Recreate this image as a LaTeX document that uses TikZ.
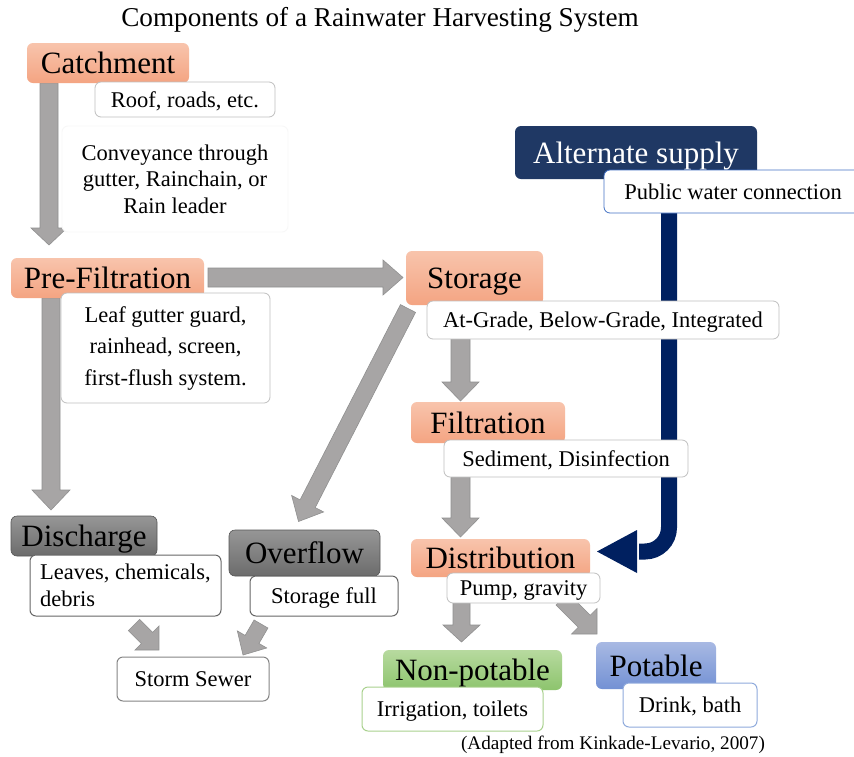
\documentclass[tikz,border=0pt]{standalone}
\usepackage{fontspec}
\setmainfont{Liberation Serif}
\usetikzlibrary{calc}
\definecolor{orT}{HTML}{F8C4AC}
\definecolor{orB}{HTML}{F4A482}
\definecolor{grT}{HTML}{969696}
\definecolor{grB}{HTML}{6C6C6C}
\definecolor{gnT}{HTML}{B7DA9F}
\definecolor{gnB}{HTML}{8DC46D}
\definecolor{blT}{HTML}{A8B9E3}
\definecolor{blB}{HTML}{7391D4}
\definecolor{navybox}{HTML}{1F3864}
\definecolor{navyarrow}{HTML}{002060}
\definecolor{arrowfill}{HTML}{A7A5A5}
\definecolor{arrowline}{HTML}{909090}
\definecolor{lightborder}{HTML}{BFBFBF}
\definecolor{darkborder}{HTML}{666666}
\definecolor{greenborder}{HTML}{A9D18E}
\definecolor{blueborder}{HTML}{8FAADC}
\definecolor{pubborder}{HTML}{4472C4}
\newcommand\blockarrow[5]{%
 \pgfpointdiff{\pgfpointanchor{#1}{center}}{\pgfpointanchor{#2}{center}}%
 \pgfgetlastxy{\badx}{\bady}%
 \pgfmathsetmacro\baang{atan2(\bady,\badx)}%
 \pgfmathsetmacro\balen{veclen(\badx,\bady)}%
 \pgfmathsetmacro\bab{\balen-#5}%
 \path[garrow, shift={(#1)}, rotate=\baang] (0pt,-#3pt) -- (\bab pt,-#3pt) -- (\bab pt,-#4pt) -- (\balen pt,0pt) -- (\bab pt,#4pt) -- (\bab pt,#3pt) -- (0pt,#3pt) -- cycle;}
\tikzset{
 big/.style={font=\fontsize{31}{36}\selectfont, text height=21pt, text depth=0pt},
 small/.style={font=\fontsize{22.5}{27}\selectfont},
 oneline/.style={text height=15pt, text depth=0pt},
 garrow/.style={fill=arrowfill, draw=arrowline, line width=0.6pt},
 mainbox/.style={rounded corners=6pt, inner sep=0pt, big},
 orangebox/.style={mainbox, top color=orT, bottom color=orB, draw=none},
 graybox/.style={mainbox, top color=grT, bottom color=grB, draw=grB!80!black, line width=0.6pt},
 greenbox/.style={mainbox, top color=gnT, bottom color=gnB, draw=none},
 bluebox/.style={mainbox, top color=blT, bottom color=blB, draw=none},
 multibox/.style={rounded corners=6pt, inner sep=0pt, fill=white, draw=lightborder, line width=0.8pt, small},
 subbox/.style={multibox, oneline},
 darksub/.style={subbox, draw=darkborder, line width=1pt},
}
\begin{document}
\begin{tikzpicture}[x=1pt, y=-1pt]
\useasboundingbox (0,0) rectangle (854,756);
\fill[white] (0,0) rectangle (854,756);

% title
\node[font=\fontsize{27.2}{31}\selectfont] (title) at (380,20) {Components of a Rainwater Harvesting System};

% arrow end points
\coordinate (a1s) at (49,83);   \coordinate (a1e) at (49,245);
\coordinate (a2s) at (208,277.5); \coordinate (a2e) at (403,277.5);
\coordinate (a3s) at (51,298);  \coordinate (a3e) at (51,510);
\coordinate (a4s) at (408,308.5); \coordinate (a4e) at (298.5,521.5);
\coordinate (a5s) at (460.5,339); \coordinate (a5e) at (460.5,401);
\coordinate (a6s) at (460.5,477); \coordinate (a6e) at (460.5,537);
\coordinate (a7s) at (461.5,603); \coordinate (a7e) at (461.5,642);
\coordinate (a8s) at (562,599); \coordinate (a8e) at (597,634);
\coordinate (a9s) at (134,625); \coordinate (a9e) at (159,650);
\coordinate (a10s) at (261,624); \coordinate (a10e) at (243,655);

\blockarrow{a1s}{a1e}{9}{18}{17}
\blockarrow{a2s}{a2e}{9.5}{17.5}{20}
\blockarrow{a3s}{a3e}{9}{19}{20}
\blockarrow{a4s}{a4e}{8.5}{18}{20}
\blockarrow{a5s}{a5e}{9.5}{18.5}{19}
\blockarrow{a6s}{a6e}{9.5}{18.5}{19}
\blockarrow{a7s}{a7e}{8.5}{18.5}{17}
\blockarrow{a8s}{a8e}{8.5}{18}{18}
\blockarrow{a9s}{a9e}{8}{17}{17}
\blockarrow{a10s}{a10e}{8}{17}{18}

% navy alternate-supply arrow
\coordinate (n1) at (669,210);
\coordinate (n2) at (669,551.5);
\coordinate (n3) at (639,551.5);
\coordinate (ntip) at (597,551.5);
\draw[navyarrow, line width=16pt, rounded corners=24pt] (n1) -- (n2) -- (n3);
\fill[navyarrow] (637,530) -- (ntip) -- (637,573) -- cycle;

% main boxes
\node[orangebox, minimum width=162pt, minimum height=40pt] (catch) at (108,63) {Catchment};
\node[subbox, minimum width=180pt, minimum height=35pt] (roof) at (185,99.5) {Roof, roads, etc.};
\node[multibox, draw=black!3, minimum width=226pt, minimum height=106pt, align=center, font=\fontsize{22.5}{26.5}\selectfont] (conv) at (175,179) {Conveyance through\\gutter, Rainchain, or\\Rain leader};

\node[orangebox, minimum width=193pt, minimum height=40pt] (pre) at (107.5,278) {Pre-Filtration};
\node[multibox, minimum width=209pt, minimum height=110pt, align=center, font=\fontsize{22.5}{31.5}\selectfont] (leaf) at (165.5,348) {Leaf gutter guard,\\rainhead, screen,\\first-flush system.};

\node[orangebox, minimum width=137pt, minimum height=54pt] (storage) at (474.5,278) {Storage};
\node[subbox, minimum width=352pt, minimum height=38pt] (grade) at (603,320) {At-Grade, Below-Grade, Integrated};

\node[mainbox, fill=navybox, text=white, minimum width=242pt, minimum height=53pt] (alt) at (636,152.5) {Alternate supply};
\node[subbox, draw=pubborder, line width=0.8pt, minimum width=258pt, minimum height=43pt] (pub) at (733,191.5) {Public water connection};

\node[orangebox, minimum width=154pt, minimum height=41pt] (filt) at (488,422.5) {Filtration};
\node[subbox, minimum width=244pt, minimum height=37pt] (sed) at (566,458.5) {Sediment, Disinfection};

\node[orangebox, minimum width=179pt, minimum height=38pt] (dist) at (500.5,558) {Distribution};
\node[subbox, minimum width=153pt, minimum height=30pt] (pump) at (523.5,588) {Pump, gravity};

\node[greenbox, minimum width=179pt, minimum height=40pt] (nonpot) at (472.5,670) {Non-potable};
\node[subbox, draw=greenborder, line width=1pt, minimum width=181pt, minimum height=44pt] (irr) at (452.5,709) {Irrigation, toilets};

\node[bluebox, minimum width=120pt, minimum height=47pt] (pot) at (656,665.5) {Potable};
\node[subbox, draw=blueborder, line width=1pt, minimum width=134pt, minimum height=44pt] (drink) at (690,705) {Drink, bath};

\node[graybox, minimum width=146pt, minimum height=40pt] (disch) at (84,536) {Discharge};
\node[multibox, draw=darkborder, line width=1pt, minimum width=191pt, minimum height=61pt, align=left, font=\fontsize{22.5}{26.5}\selectfont] (leaves) at (125.5,585.5) {Leaves, chemicals,\\debris};

\node[graybox, minimum width=151pt, minimum height=46pt] (over) at (304.5,553) {Overflow};
\node[darksub, minimum width=148pt, minimum height=40pt] (full) at (324,596) {Storage full};

\node[darksub, draw=darkborder!80, minimum width=152pt, minimum height=44pt] (sewer) at (193,679) {Storm Sewer};

\node[font=\fontsize{19.2}{22}\selectfont] (caption) at (613,745) {(Adapted from Kinkade-Levario, 2007)};
\end{tikzpicture}
\end{document}
